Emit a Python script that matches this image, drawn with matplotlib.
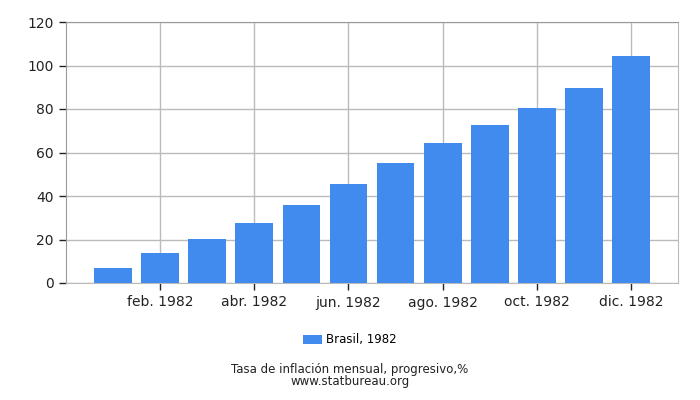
import matplotlib
matplotlib.use('Agg')
import matplotlib.pyplot as plt

months = ['ene. 1982', 'feb. 1982', 'mar. 1982', 'abr. 1982', 'may. 1982', 'jun. 1982',
          'jul. 1982', 'ago. 1982', 'sep. 1982', 'oct. 1982', 'nov. 1982', 'dic. 1982']
values = [6.9, 13.9, 20.2, 27.7, 35.9, 45.6, 55.3, 64.5, 72.8, 80.5, 89.7, 104.4]
series_name = 'Brasil, 1982'
y_ticks = [0, 20, 40, 60, 80, 100, 120]

fig = plt.figure(figsize=(7, 4), dpi=100)
ax = fig.add_axes([0.094, 0.2925, 0.875, 0.6525])

x = list(range(len(months)))
ax.bar(x, values, width=0.8, color='#428bee', label=series_name, zorder=3)

ax.set_xlim(-1, 12)
ax.set_ylim(0, 120)
ax.set_yticks(y_ticks)
ax.set_xticks(x[1::2])
ax.set_xticklabels(months[1::2])
ax.grid(True, color='#bbbbbb', linewidth=1, zorder=0)
for s in ax.spines.values():
    s.set_color('#bbbbbb')
ax.spines['top'].set_color('#999999')
ax.spines['left'].set_color('#999999')
ax.tick_params(axis='both', colors='#222222', labelsize=10, length=5, width=1)
ax.tick_params(axis='x', pad=4)

fig.legend(loc='center', bbox_to_anchor=(0.5, 0.15), frameon=False, fontsize=8.5,
           handlelength=1.6, handleheight=0.7, handletextpad=0.4)
fig.text(0.5, 0.075, 'Tasa de inflación mensual, progresivo,%', ha='center', va='center', fontsize=8.5, color='#222222')
fig.text(0.5, 0.045, 'www.statbureau.org', ha='center', va='center', fontsize=8.5, color='#222222')

fig.savefig('out.png', dpi=100)
